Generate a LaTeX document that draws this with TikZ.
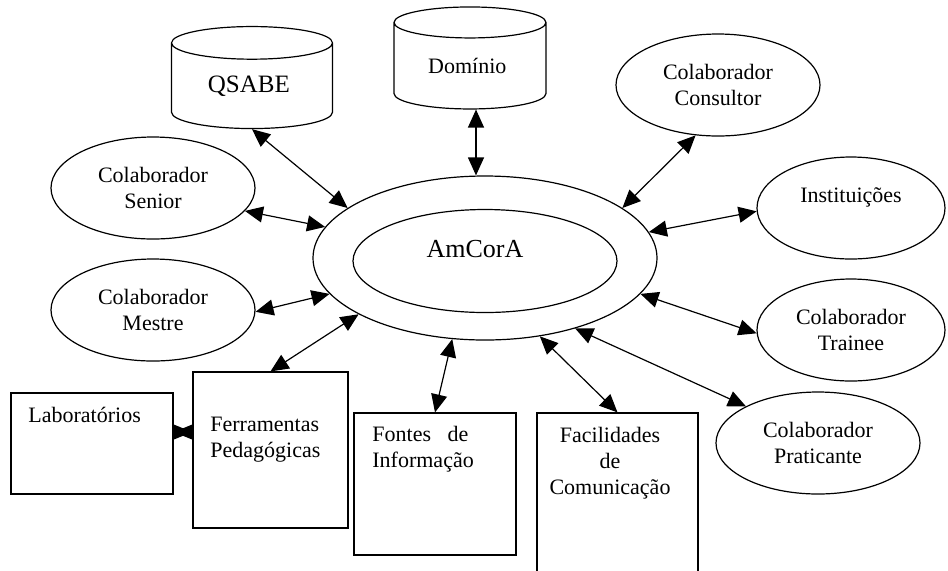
\documentclass[tikz,border=0pt]{standalone}
\usepackage{fontspec}
\setmainfont{Liberation Serif}
\usetikzlibrary{arrows.meta,positioning,shapes.geometric}

\begin{document}
\begin{tikzpicture}[x=0.5pt, y=-0.5pt,
    every node/.style={
        inner sep=0pt,
        align=center,
        font=\fontsize{11}{13}\selectfont
    },
    collab/.style={
        ellipse,
        draw,
        line width=0.6pt,
        minimum width=102pt,
        minimum height=51pt
    },
    box/.style={
        rectangle,
        draw,
        line width=0.6pt
    },
    db/.style={
        cylinder,
        shape border rotate=90,
        aspect=0.37,
        draw,
        line width=0.6pt,
        minimum height=51pt
    },
    >={Triangle[length=9pt, width=8pt]},
    link/.style={<->, line width=0.6pt},
    small link/.style={{Triangle[length=9.5pt, width=7.5pt]}-{Triangle[length=9.5pt, width=7.5pt]}, line width=0.6pt}
]
    \useasboundingbox (0,0) rectangle (948,570);
    % AmCorA
    \node (amcora) [collab, minimum width=172pt, minimum height=82pt, shift={(485,258)}] {};
    \node (amcora_inner) [collab, minimum width=132pt, minimum height=51.5pt, shift={(485,261)}] {};
    \node (amcora_text) [font=\fontsize{13}{15}\selectfont, shift={(475,249)}] {AmCorA};
    % bases
    \node (qsabe) [db, minimum width=80.5pt, font=\fontsize{12.5}{15}\selectfont, shift={(252,86)}]
    {
        QSABE
    };
    \node (dominio) [db, minimum width=76pt, shift={(470,66)}]
    {
        Domínio
    };
    % colaboradores
    \node (senior) [collab, shift={(153,188)}]
    {
        Colaborador\\Senior
    };
    \node (mestre) [collab, shift={(153,310)}]
    {
        Colaborador\\Mestre
    };
    \node (consultor) [collab, shift={(718,85)}]
    {
        Colaborador\\Consultor
    };
    \node (instituicoes) [collab, minimum width=94pt, shift={(851,208)}]
    {
        Instituições\\\mbox{}
    };
    \node (trainee) [collab, minimum width=94pt, shift={(851,330)}]
    {
        Colaborador\\Trainee
    };
    \node (praticante) [collab, shift={(818,443)}]
    {
        Colaborador\\Praticante
    };
    % caixas
    \node (laboratorios) [box, minimum width=81pt, minimum height=50.5pt, shift={(92,443.5)}] {};
    \node (ferramentas) [box, minimum width=77.5pt, minimum height=78pt, shift={(270.5,450)}] {};
    \node (fontes) [box, minimum width=81pt, minimum height=71pt, shift={(435,484)}] {};
    \node (facilidades) [box, minimum width=80.5pt, minimum height=86pt, shift={(617.5,499)}] {};
    \node (laboratorios_text) [anchor=west, shift={(28,415)}] {Laboratórios};
    \node (ferramentas_text) [anchor=west, align=left, shift={(210,440)}] {Ferramentas\\Pedagógicas};
    \node (fontes_text) [anchor=west, align=left, shift={(372,449.5)}] {Fontes\hspace{0.75em}de\\Informação};
    \node (facilidades_text) [shift={(610,463.5)}] {Facilidades\\de\\Comunicação};
    % ligacoes
    \draw[link] (qsabe.south) to (amcora.160);
    \draw[link] ([xshift=3pt]dominio.south) to ([xshift=3pt]dominio.south |- amcora.north);
    \draw[link] (consultor.246) to (amcora.20);
    \draw[link] (instituicoes.182) to (amcora.9);
    \draw[link] (trainee.182) to (amcora.-13);
    \draw[link] (praticante.153) to (amcora.-38);
    \draw[link] (facilidades.north) to (amcora.-55);
    \draw[link] (fontes.north) to (amcora.-112);
    \draw[link] (ferramentas.north) to (amcora.204);
    \draw[link] (mestre.-1) to (amcora.193);
    \draw[link] (senior.-14) to (amcora.169);
    \draw[small link] (laboratorios.8) to (laboratorios.8 -| ferramentas.west);
\end{tikzpicture}
\end{document}
